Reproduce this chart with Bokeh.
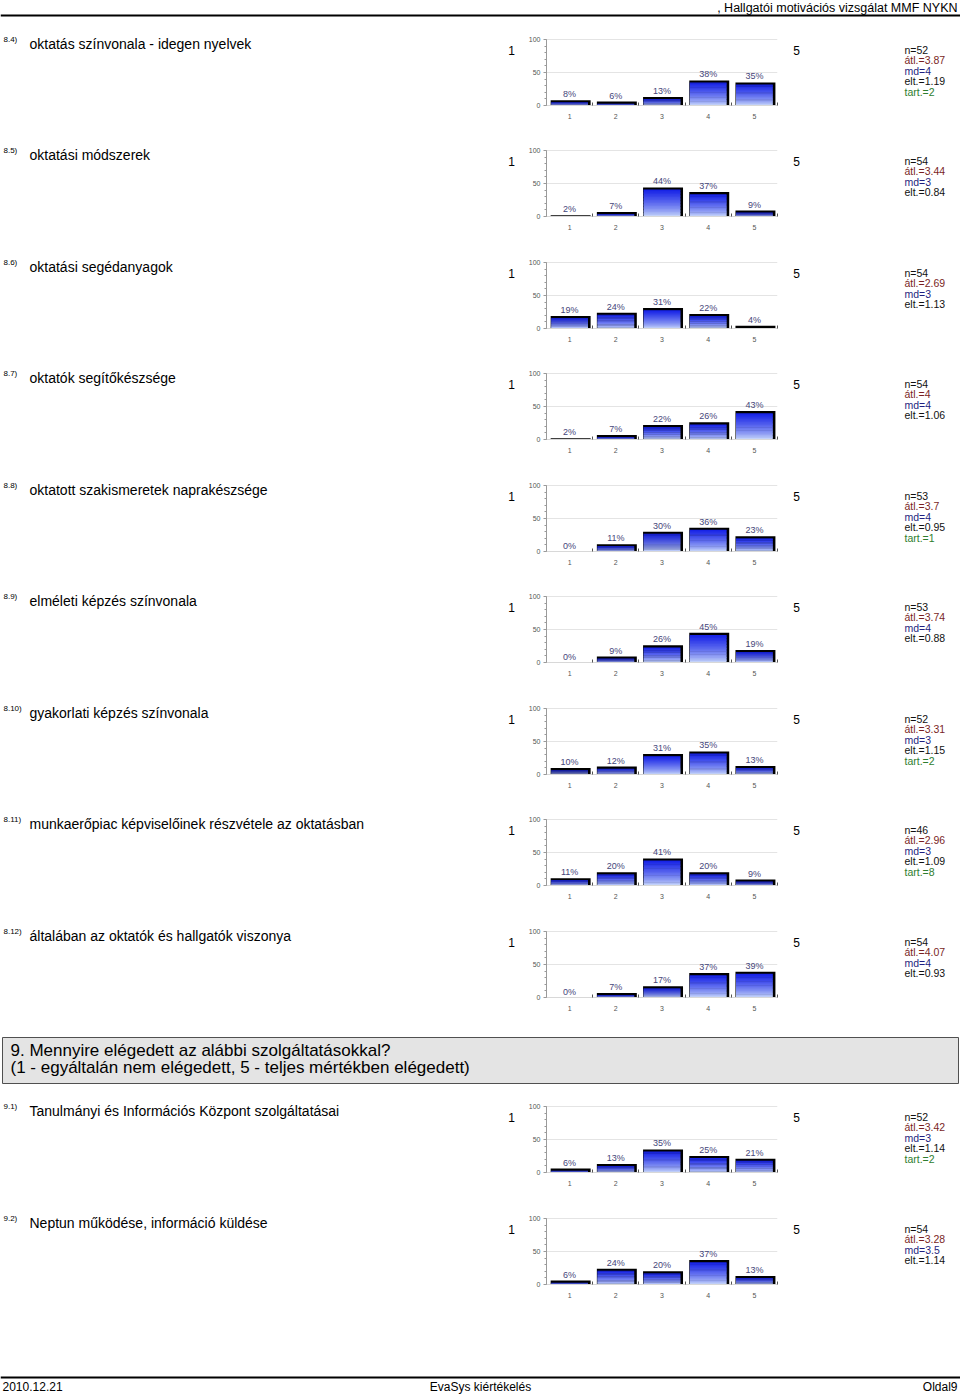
import numpy as np
from bokeh.plotting import figure
from bokeh.layouts import column, row
from bokeh.models import Range1d, FixedTicker
from bokeh.core.properties import value
from bokeh.embed import file_html
from bokeh.resources import INLINE

# ---------------- data ----------------
header_title = ", Hallgatói motivációs vizsgálat MMF NYKN"
q_ids = ["8.4)", "8.5)", "8.6)", "8.7)", "8.8)", "8.9)", "8.10)", "8.11)", "8.12)", "9.1)", "9.2)"]
q_titles = [
    "oktatás színvonala - idegen nyelvek",
    "oktatási módszerek",
    "oktatási segédanyagok",
    "oktatók segítőkészsége",
    "oktatott szakismeretek naprakészsége",
    "elméleti képzés színvonala",
    "gyakorlati képzés színvonala",
    "munkaerőpiac képviselőinek részvétele az oktatásban",
    "általában az oktatók és hallgatók viszonya",
    "Tanulmányi és Információs Központ szolgáltatásai",
    "Neptun működése, információ küldése",
]
q_pcts = [
    [8, 6, 13, 38, 35],
    [2, 7, 44, 37, 9],
    [19, 24, 31, 22, 4],
    [2, 7, 22, 26, 43],
    [0, 11, 30, 36, 23],
    [0, 9, 26, 45, 19],
    [10, 12, 31, 35, 13],
    [11, 20, 41, 20, 9],
    [0, 7, 17, 37, 39],
    [6, 13, 35, 25, 21],
    [6, 24, 20, 37, 13],
]
q_n = ["52", "54", "54", "54", "53", "53", "52", "46", "54", "52", "54"]
q_atl = ["3.87", "3.44", "2.69", "4", "3.7", "3.74", "3.31", "2.96", "4.07", "3.42", "3.28"]
q_md = ["4", "3", "3", "4", "4", "4", "3", "3", "4", "3", "3.5"]
q_elt = ["1.19", "0.84", "1.13", "1.06", "0.95", "0.88", "1.15", "1.09", "0.93", "1.14", "1.14"]
q_tart = ["2", None, None, None, "1", None, "2", "8", None, "2", None]
scale_left = "1"
scale_right = "5"
categories = [1, 2, 3, 4, 5]
cat_labels = ["1", "2", "3", "4", "5"]
y_ticks = [0, 50, 100]
section_lines = [
    "9. Mennyire elégedett az alábbi szolgáltatásokkal?",
    "(1 - egyáltalán nem elégedett, 5 - teljes mértékben elégedett)",
]
footer_left = "2010.12.21"
footer_center = "EvaSys kiértékelés"
footer_right = "Oldal9"

# ---------------- style / layout ----------------
FONT = "Liberation Sans"
W = 960
block_heights = [111, 112, 111, 112, 111, 112, 111, 112, 112, 112, 112]
LEFT_W, CHART_W = 520, 270
RIGHT_W = W - LEFT_W - CHART_W
PAD_TOP = 14      # px from block top to the 100 line
PLOT_H = 66       # px from 100 line to 0 line
FRAME_BOTTOM = PAD_TOP + PLOT_H
stat_colors = ["#111111", "#7a1f1f", "#1f1f80", "#111111", "#2e7d2e"]


def canvas(w, h, bottom_border=0):
    p = figure(width=w, height=h, x_range=Range1d(0, w), y_range=Range1d(h - bottom_border, 0),
               output_backend="svg", toolbar_location=None, min_border=0,
               min_border_bottom=bottom_border,
               x_axis_location=None, y_axis_location=None)
    p.grid.visible = False
    p.outline_line_color = None
    return p


def txt(p, x, y, s, size, color="#000000", align="left"):
    p.text(x=[x], y=[y], text=[s], text_font=value(FONT), text_font_size=size,
           text_color=color, text_align=align, text_baseline="middle")


def mix(c1, c2, t):
    a = np.array([int(c1[i:i + 2], 16) for i in (1, 3, 5)], float)
    b = np.array([int(c2[i:i + 2], 16) for i in (1, 3, 5)], float)
    c = (a + (b - a) * t).round().astype(int)
    return "#%02x%02x%02x" % tuple(c)


def chart(pcts, h):
    y_top = 100.0 * FRAME_BOTTOM / PLOT_H
    p = figure(width=CHART_W, height=h, x_range=Range1d(0.5, 5.5), y_range=Range1d(0, y_top),
               output_backend="svg", toolbar_location=None,
               min_border_left=26, min_border_right=13, min_border_top=0,
               min_border_bottom=h - FRAME_BOTTOM)
    p.outline_line_color = None
    p.xgrid.visible = False
    p.ygrid.ticker = FixedTicker(ticks=[50, 100])
    p.ygrid.grid_line_color = "#e4e4e4"
    ya = p.yaxis[0]
    ya.bounds = (0, 100)
    ya.ticker = FixedTicker(ticks=y_ticks, minor_ticks=list(range(0, 101, 10)))
    ya.major_label_text_font = FONT
    ya.major_label_text_font_size = "7px"
    ya.major_label_text_color = "#555555"
    ya.axis_line_color = "#9a9a9a"
    ya.major_tick_line_color = "#9a9a9a"
    ya.minor_tick_line_color = "#9a9a9a"
    ya.major_tick_out = 3
    ya.major_tick_in = 0
    ya.minor_tick_out = 2
    ya.minor_tick_in = 0
    ya.major_label_standoff = 3
    xa = p.xaxis[0]
    xa.ticker = FixedTicker(ticks=categories, minor_ticks=[1.5, 2.5, 3.5, 4.5, 5.5])
    xa.major_label_overrides = {c: l for c, l in zip(categories, cat_labels)}
    xa.major_label_text_font = FONT
    xa.major_label_text_font_size = "7px"
    xa.major_label_text_color = "#555555"
    xa.axis_line_color = "#d8d8d8"
    xa.major_tick_line_color = None
    xa.major_tick_out = 0
    xa.major_tick_in = 0
    xa.minor_tick_line_color = "#555555"
    xa.minor_tick_in = 3
    xa.minor_tick_out = 0
    xa.major_label_standoff = 8

    x = np.array(categories, float)
    v = np.array(pcts, float)
    bw = 0.41
    # dark edge / shadow (top + right)
    p.quad(left=x - bw, right=x + bw + 0.045, bottom=0, top=v,
           fill_color="#000000", line_color=None)
    inner = np.maximum(v - 3.2, 0)
    N = 18
    for k in range(N):
        col = mix("#d2e2fb", "#1420e6", ((k + 0.5) / N) ** 0.7)
        p.quad(left=x - bw + 0.012, right=x + bw - 0.012,
               bottom=inner * k / N, top=np.minimum(inner * (k + 1.4) / N, inner),
               fill_color=col, line_color=None)
    p.text(x=x, y=v, text=[f"{int(a)}%" for a in pcts], text_font=value(FONT),
           text_font_size="9px", text_color="#46467a", text_align="center",
           text_baseline="bottom", y_offset=-1)
    return p


def question_block(i, h):
    bb = h - FRAME_BOTTOM
    left = canvas(LEFT_W, h, bb)
    txt(left, 3, 14, q_ids[i], "8px")
    txt(left, 29, 18, q_titles[i], "14px")
    txt(left, 511, 25, scale_left, "12px", align="center")
    ch = chart(q_pcts[i], h)
    right = canvas(RIGHT_W, h, bb)
    txt(right, 6, 25, scale_right, "12px", align="center")
    stats = [f"n={q_n[i]}", f"átl.={q_atl[i]}", f"md={q_md[i]}", f"elt.={q_elt[i]}"]
    if q_tart[i] is not None:
        stats.append(f"tart.={q_tart[i]}")
    for j, s in enumerate(stats):
        txt(right, 114, 24 + 10.5 * j, s, "10.5px", color=stat_colors[j])
    return row(left, ch, right, spacing=0)


# header
hdr = canvas(W, 25)
txt(hdr, 957, 7, header_title, "12.5px", align="right")
hdr.line(x=[0, W], y=[15, 15], line_color="#000000", line_width=2)

blocks = [hdr]
for i in range(9):
    blocks.append(question_block(i, block_heights[i]))

sec = canvas(W, 63)
sec.quad(left=[2], right=[958], top=[8], bottom=[54], fill_color="#e4e4e4",
         line_color="#505050", line_width=1)
txt(sec, 10, 21, section_lines[0], "17px")
txt(sec, 10, 38, section_lines[1], "17px")
blocks.append(sec)

for i in range(9, 11):
    blocks.append(question_block(i, block_heights[i]))

ftr = canvas(W, 79)
ftr.line(x=[0, W], y=[61, 61], line_color="#000000", line_width=2)
txt(ftr, 2, 70, footer_left, "12px")
txt(ftr, 480, 70, footer_center, "12px", align="center")
txt(ftr, 957, 70, footer_right, "12px", align="right")
blocks.append(ftr)

page = column(*blocks, spacing=0)
open("out.html", "w").write(file_html(page, INLINE))
